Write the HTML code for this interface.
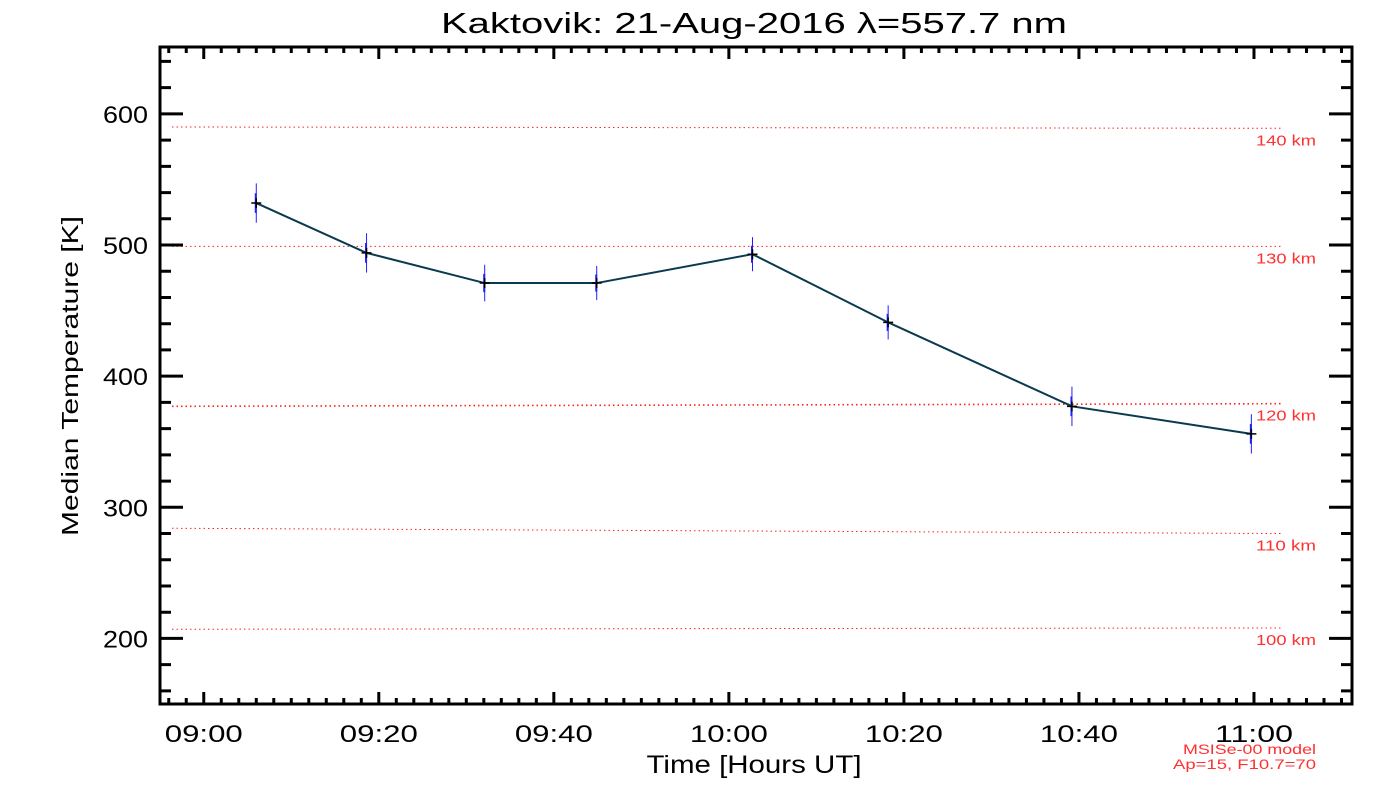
<!DOCTYPE html>
<html><head><meta charset="utf-8"><style>
html,body{margin:0;padding:0;background:#fff;}
svg{display:block;font-family:"Liberation Sans",sans-serif;}
</style></head><body>
<svg id="chart" width="1400" height="800" viewBox="0 0 1400 800" xmlns="http://www.w3.org/2000/svg">
<rect width="1400" height="800" fill="#fff"/>
<text x="754" y="33" font-size="29" text-anchor="middle" fill="#000" textLength="626" lengthAdjust="spacingAndGlyphs">Kaktovik: 21-Aug-2016 λ=557.7 nm</text>
<text x="754" y="773" font-size="25" text-anchor="middle" fill="#000" textLength="215" lengthAdjust="spacingAndGlyphs">Time [Hours UT]</text>
<text transform="translate(78,376) rotate(-90)" font-size="23" text-anchor="middle" fill="#000" textLength="320" lengthAdjust="spacingAndGlyphs">Median Temperature [K]</text>
<text x="1316" y="754" font-size="14" text-anchor="end" fill="#ff3030" textLength="133" lengthAdjust="spacingAndGlyphs">MSISe-00 model</text>
<text x="1316" y="769" font-size="14" text-anchor="end" fill="#ff3030" textLength="143" lengthAdjust="spacingAndGlyphs">Ap=15, F10.7=70</text>
<g id="grid"></g><g id="series"></g><g id="axes"></g>
</svg>
<script>
// data (minutes after 09:00)
const times=[6.0,18.6,32.1,44.9,62.7,78.2,99.2,119.7];
const temps=[532,494,471,471,493,441,377,356];
const errs=[15,15,14,13,13,13,15,15];
const altLabels=["140 km","130 km","120 km","110 km","100 km"];
const altTempsLeft=[590,499,377,284,207];
const altTempsRight=[589,499,379,280,208];
const yTicks=[200,300,400,500,600];
const xTickMins=[0,20,40,60,80,100,120];
const xTickLabels=["09:00","09:20","09:40","10:00","10:20","10:40","11:00"];

const L=160,R=1352,T=47,B=704;
const xMin=-5,xMax=131.2,yMin=150,yMax=651;
const X=m=>L+(m-xMin)/(xMax-xMin)*(R-L);
const Y=v=>B-(v-yMin)/(yMax-yMin)*(B-T);
const NS="http://www.w3.org/2000/svg";
function mk(tag,attrs,parent){const e=document.createElementNS(NS,tag);for(const k in attrs)e.setAttribute(k,attrs[k]);parent.appendChild(e);return e;}
const grid=document.getElementById('grid'),ser=document.getElementById('series'),ax=document.getElementById('axes');

altLabels.forEach((lab,i)=>{
  const l=mk('line',{x1:X(xMin)+12,x2:1282,y1:Y(altTempsLeft[i]),y2:Y(altTempsRight[i]),stroke:'#ff2020','stroke-width':i==2?1.6:1,'stroke-dasharray':'1.5,3'},grid);
  
  
  const t=mk('text',{x:1316,y:Y(altTempsRight[i])+17,'font-size':15,'text-anchor':'end',fill:'#ff3030',textLength:60,lengthAdjust:'spacingAndGlyphs'},grid);
  t.textContent=lab;
  
  
});

const pts=times.map((m,i)=>X(m)+','+Y(temps[i])).join(' ');
const pl=mk('polyline',{points:pts,fill:'none',stroke:'#0a3a50','stroke-width':2},ser);


times.forEach((m,i)=>{
  const x=X(m),y=Y(temps[i]);
  const e=mk('line',{x1:x,x2:x,y1:Y(temps[i]+errs[i]),y2:Y(temps[i]-errs[i]),stroke:'#2020ff','stroke-width':1},ser);
  
  
  const e2=mk('line',{x1:x-0.5,x2:x-0.5,y1:Y(temps[i]+errs[i]/2),y2:Y(temps[i]-errs[i]/2),stroke:'#2020ff','stroke-width':2},ser);
  
  
  const p=mk('path',{d:`M${x-5},${y}h10M${x},${y-5}v10`,stroke:'#000','stroke-width':1.5},ser);
  
  
});

const fr=mk('rect',{x:L,y:T,width:R-L,height:B-T,fill:'none',stroke:'#000','stroke-width':3},ax);


let d='';
for(let m=-4;m<=xMax;m+=2){const x=X(m),len=(m%20===0)?12:6;d+=`M${x},${B}v${-len}M${x},${T}v${len}`;}
for(let v=160;v<=650;v+=20){const y=Y(v),len=(v%100===0)?23:11;d+=`M${L},${y}h${len}M${R},${y}h${-len}`;}
const tk=mk('path',{d:d,stroke:'#000','stroke-width':3},ax);


yTicks.forEach(v=>{
  const t=mk('text',{x:148,y:Y(v)+9,'font-size':24,'text-anchor':'end',fill:'#000',textLength:45,lengthAdjust:'spacingAndGlyphs'},ax);
  t.textContent=v;
  
  
});
xTickMins.forEach((m,i)=>{
  const t=mk('text',{x:X(m),y:742,'font-size':24,'text-anchor':'middle',fill:'#000',textLength:78,lengthAdjust:'spacingAndGlyphs'},ax);
  t.textContent=xTickLabels[i];
  
  
});
</script>
</body></html>
